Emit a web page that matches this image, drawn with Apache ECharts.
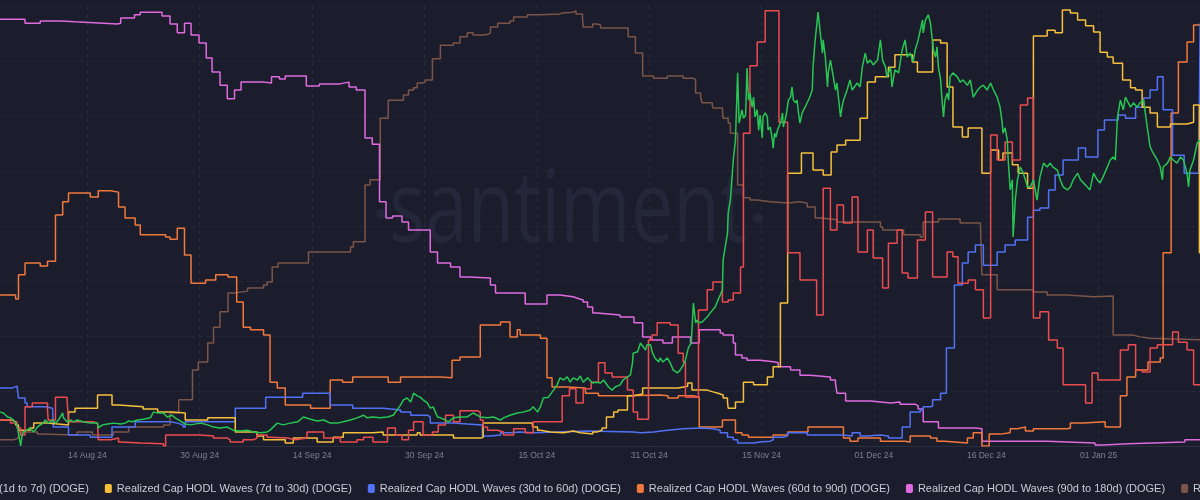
<!DOCTYPE html>
<html>
<head>
<meta charset="utf-8">
<title>DOGE Realized Cap HODL Waves</title>
<script src="https://cdn.jsdelivr.net/npm/echarts@6/dist/echarts.min.js"></script>
<style>
  html, body { margin: 0; padding: 0; background: #1b1d2c; }
  #chart { width: 1200px; height: 500px; }
</style>
</head>
<body>
<div id="chart"></div>
<script>
// x = days since 14 Aug 2024, y = relative level of each wave (0-100, each wave on its own scale)
const dateLabels = ['29 Jul 24', '14 Aug 24', '30 Aug 24', '14 Sep 24', '30 Sep 24', '15 Oct 24',
  '31 Oct 24', '15 Nov 24', '01 Dec 24', '16 Dec 24', '01 Jan 25', '16 Jan 25'];
const labelStep = 15.5;

const wave1d7d = [[-13,7.7],[-12.0,7.7],[-11.6,7.5],[-11.0,6.6],[-10.6,6.4],[-10.2,5.9],[-9.7,4.8],[-9.5,3.0],[-9.2,0],[-9.0,2.5],[-8.8,3.2],[-8.3,3.6],[-7.9,4.1],[-7.4,3.2],[-6.9,4.3],[-6.5,4.8],[-6.1,5.2],[-5.8,5.9],[-5.4,5.2],[-4.8,5.9],[-4.4,5.2],[-4.0,5.9],[-3.4,7.5],[-3.3,6.4],[-2.8,5.5],[-2.3,5.9],[-1.9,5.5],[-1.4,5.9],[-0.6,5.5],[0.4,5.2],[1.4,5.2],[1.5,4.1],[2.1,4.8],[2.8,5.0],[3.6,5.2],[4.6,5.0],[5.2,5.2],[5.7,5.7],[6.2,5.5],[6.9,5.9],[7.7,6.1],[8.7,6.4],[9.1,7.7],[9.8,7.5],[10.5,7.5],[11.0,6.6],[11.7,7.0],[12.1,6.4],[12.8,5.7],[13.5,5.0],[14.2,4.8],[15.6,5.2],[16.6,4.8],[17.4,4.3],[18.3,4.1],[19.3,4.3],[20.1,3.6],[21.1,3.4],[22.1,3.6],[22.9,3.2],[23.9,3.0],[24.8,3.2],[25.2,3.6],[26.2,5.2],[27.0,4.8],[28.0,5.2],[29.0,5.5],[29.8,6.6],[30.8,6.1],[31.7,5.7],[32.6,5.9],[33.5,5.2],[34.5,5.2],[35.3,5.5],[36.3,5.9],[37.2,6.4],[38.1,7.0],[38.6,6.4],[39.4,6.6],[40.4,6.4],[41.4,6.6],[42.2,7.0],[42.9,8.6],[43.2,9.3],[43.6,10.5],[44.1,10.9],[44.6,10.0],[45.0,12.0],[45.5,11.4],[45.9,11.1],[46.3,10.5],[46.9,9.8],[47.3,8.6],[47.7,8.9],[48.3,6.6],[48.7,6.4],[49.4,5.9],[49.8,5.5],[50.5,6.4],[51.4,6.6],[52.4,6.6],[53.2,7.5],[54.2,6.6],[55.2,6.4],[56.0,6.6],[57.0,5.9],[57.4,6.4],[58.3,7.0],[59.3,7.5],[60.1,7.7],[61.1,8.2],[61.5,8.9],[62.1,7.7],[62.5,8.9],[62.9,10.9],[63.6,11.1],[64.3,12.7],[64.8,13.9],[65.2,15.5],[65.7,15.0],[66.2,15.7],[66.6,14.5],[67.0,15.5],[67.6,15.0],[68.0,15.9],[68.4,14.5],[69.0,15.5],[69.7,14.3],[70.1,14.5],[70.8,14.3],[71.2,15.0],[71.9,13.4],[72.4,12.7],[72.8,13.4],[73.5,13.9],[73.9,15.0],[74.5,15.7],[74.9,16.1],[75.2,18.9],[75.3,21.1],[75.9,21.4],[76.3,23.4],[76.7,22.5],[77.0,21.8],[77.2,23.0],[77.7,23.0],[77.9,21.4],[78.3,20.0],[78.8,19.1],[79.0,20.0],[79.4,19.1],[80.0,20.0],[80.4,18.9],[80.8,17.3],[81.4,16.6],[81.8,17.3],[82.2,18.4],[82.5,19.5],[82.9,22.3],[83.3,23.4],[83.6,32.5],[83.9,28.0],[84.1,28.6],[84.3,28.0],[84.8,28.2],[85.5,29.3],[85.9,30.2],[86.6,31.6],[87.0,33.2],[87.3,34.3],[87.6,35.5],[87.7,42.3],[88.3,48.4],[88.4,53.0],[88.7,55.9],[89.1,65.0],[89.4,69.5],[89.7,84.8],[89.9,73.4],[90.3,76.4],[90.5,74.5],[90.8,75.2],[91.0,85.9],[91.2,78.6],[91.4,80.2],[91.7,77.0],[91.9,79.3],[92.1,74.8],[92.4,76.4],[92.6,71.8],[92.8,75.2],[93.1,70.0],[93.2,74.8],[93.5,75.7],[93.8,74.8],[93.9,71.8],[94.2,72.5],[94.5,69.5],[94.6,67.7],[94.8,71.1],[95.0,70.2],[95.2,71.8],[95.6,73.4],[95.9,75.7],[96.0,72.5],[96.4,75.2],[96.7,78.6],[97.0,79.3],[97.2,81.6],[97.4,78.6],[97.7,78.0],[97.9,78.6],[98.1,75.7],[98.3,73.4],[98.6,75.7],[99.0,77.0],[99.6,79.1],[100.0,80.9],[100.1,86.1],[100.4,92.3],[100.8,98.6],[101.1,93.9],[101.4,89.3],[101.5,92.3],[101.8,88.4],[102.1,81.6],[102.2,84.8],[102.5,87.7],[102.9,83.9],[103.2,80.9],[103.4,82.5],[103.6,79.3],[103.9,74.8],[104.1,77.0],[104.3,78.6],[104.8,80.9],[105.2,83.2],[105.5,80.9],[106.2,82.5],[106.6,81.6],[106.9,86.1],[107.3,89.3],[107.6,87.0],[108.0,87.7],[108.4,86.6],[109.0,87.7],[109.4,92.3],[109.7,87.7],[110.1,86.1],[110.3,83.9],[110.8,86.1],[111.0,81.6],[111.4,85.5],[111.9,84.8],[112.4,90.0],[112.8,92.3],[113.1,88.4],[113.5,89.3],[113.9,87.3],[114.2,90.0],[114.6,92.3],[114.9,94.5],[115.2,96.8],[115.3,93.9],[115.6,96.8],[116.0,98.0],[116.3,96.1],[116.6,91.6],[116.7,90.0],[117.0,88.4],[117.2,90.7],[117.4,86.1],[117.7,83.2],[117.9,78.6],[118.1,74.8],[118.3,78.6],[118.6,80.2],[118.8,78.6],[119.0,83.9],[119.4,84.8],[120.0,83.9],[120.4,82.7],[120.8,83.2],[121.4,82.0],[121.8,83.2],[122.2,79.3],[122.8,80.9],[123.2,81.6],[123.6,82.0],[124.1,80.9],[124.6,82.5],[125.0,80.9],[125.5,79.3],[125.9,77.0],[126.2,73.4],[126.3,71.1],[126.6,72.3],[126.9,69.5],[127.0,65.7],[127.3,58.2],[127.6,60.5],[127.7,47.5],[128.0,55.9],[128.3,60.5],[128.7,63.4],[129.1,62.0],[129.7,58.9],[130.1,58.9],[130.5,60.5],[131.0,55.9],[131.4,61.1],[131.9,64.3],[132.4,63.4],[132.8,64.3],[133.2,63.4],[133.8,62.7],[134.2,60.5],[134.6,58.9],[135.2,58.2],[135.6,58.9],[136.0,60.5],[136.6,62.0],[137.0,60.5],[137.4,59.8],[137.9,58.9],[138.3,58.2],[138.8,62.0],[139.3,60.5],[139.7,59.8],[140.1,61.1],[140.7,63.4],[141.1,65.0],[141.5,65.7],[141.8,65.0],[142.1,74.8],[142.5,78.6],[142.9,76.4],[143.2,79.3],[143.4,78.6],[143.9,77.0],[144.3,78.0],[144.8,77.0],[145.2,78.0],[145.7,78.6],[146.2,72.5],[146.6,68.0],[147.0,66.6],[147.6,65.0],[148.0,63.4],[148.3,60.5],[148.4,63.4],[149.0,64.3],[149.4,65.7],[149.8,65.0],[150.3,64.3],[150.8,65.7],[151.2,65.0],[151.7,62.0],[151.9,58.9],[152.1,62.7],[152.6,65.0],[153.1,68.9],[153.5,69.5],[155,70.0]];

const wave7d30d = [[-13,5.9],[-10.3,5.5],[-9.9,4.8],[-9.5,3.6],[-7.9,4.1],[-7.4,5.2],[-5.5,4.8],[-2.6,7.7],[-1.7,8.6],[1.4,11.6],[3.4,9.3],[4.3,8.9],[7.7,8.4],[9.7,7.7],[11.7,7.5],[13.5,5.9],[16.6,6.4],[20.4,3.2],[23.4,2.3],[24.3,1.4],[27.3,0.7],[28.4,1.8],[31.7,0.9],[33.9,2.0],[35.3,3.0],[39.4,3.2],[40.8,2.5],[45.5,3.0],[45.9,2.5],[50.5,1.8],[54.3,2.0],[54.6,5.2],[61.4,4.3],[62.1,3.6],[62.5,3.2],[63.9,3.0],[65.7,3.4],[67.0,3.0],[68.0,2.7],[69.7,3.2],[70.3,3.6],[71.0,4.1],[71.6,6.6],[72.6,7.7],[73.2,8.2],[74.5,11.4],[75.3,11.8],[76.6,13.2],[81.5,13.6],[82.8,14.3],[83.4,12.7],[85.5,12.3],[86.3,12.0],[87.0,11.6],[87.7,10.9],[88.3,10.0],[88.4,8.6],[89.4,10.0],[90.5,14.5],[91.9,13.9],[93.8,15.7],[94.6,18.0],[95.6,32.5],[96.6,62.0],[98.5,66.6],[100.1,62.7],[101.5,61.6],[102.6,66.8],[103.4,68.4],[104.6,69.5],[106.6,74.5],[107.6,82.7],[108.7,83.9],[110.5,86.1],[111.4,88.9],[113.8,87.3],[114.5,85.0],[116.6,92.3],[117.7,91.6],[118.6,81.6],[119.4,72.5],[120.7,70.2],[121.5,72.3],[123.4,62.0],[124.6,67.3],[125.7,65.0],[126.3,66.6],[127.6,63.9],[128.4,62.0],[129.7,58.6],[130.5,93.2],[132.4,94.5],[133.5,93.9],[134.5,99.1],[135.6,98.4],[136.6,96.8],[137.7,95.5],[138.8,94.1],[139.7,89.5],[140.7,88.4],[141.5,87.0],[142.8,83.2],[143.9,81.4],[144.6,80.9],[145.5,77.0],[146.6,75.7],[147.6,72.5],[149.4,73.2],[151.7,73.6],[152.6,77.5],[153.4,43.9],[155,43.9]];

const wave30d60d = [[-13,13.2],[-10.3,13.6],[-9.7,13.9],[-9.5,10.9],[-8.6,9.8],[-8.3,8.9],[-5.8,8.6],[-4.8,8.4],[-4.7,4.3],[-2.6,2.5],[0.4,2.0],[3.4,4.3],[6.6,5.5],[11.4,5.2],[12.4,4.8],[13.2,4.3],[13.5,5.5],[20.4,8.6],[24.6,11.1],[29.7,12.0],[33.5,9.3],[36.6,8.6],[40.8,8.2],[43.2,7.7],[44.6,7.0],[46.9,6.6],[47.3,5.2],[50.5,5.0],[52.4,4.8],[54.5,2.3],[55.6,2.5],[57.0,3.0],[58.3,3.2],[59.7,3.0],[61.5,3.2],[64.8,3.4],[69.0,3.2],[75.3,3.0],[76.3,3.2],[78.1,3.6],[80.0,3.9],[82.2,4.1],[84.6,3.9],[86.3,3.6],[87.3,3.0],[88.3,2.0],[89.1,1.4],[89.7,0.7],[91.9,0.9],[92.8,1.1],[94.2,1.4],[94.6,2.0],[96.0,2.3],[96.6,3.0],[99.3,2.5],[104.3,2.3],[105.5,3.0],[106.6,2.3],[107.6,2.5],[109.4,2.3],[110.5,1.8],[112.4,4.3],[113.5,7.7],[114.9,8.2],[115.3,8.9],[116.3,9.1],[116.6,10.5],[117.7,12.0],[118.5,22.3],[119.6,36.6],[120.7,41.6],[121.5,44.1],[122.5,45.7],[123.6,41.1],[125.5,44.1],[126.6,45.7],[128.0,46.8],[129.7,52.0],[130.5,53.6],[131.4,54.1],[132.6,58.2],[133.5,61.6],[134.6,65.0],[136.7,67.7],[137.7,65.7],[139.4,71.8],[140.3,74.1],[142.2,75.2],[143.2,74.5],[144.6,77.0],[145.7,79.1],[146.6,80.9],[147.6,83.9],[148.4,76.4],[149.7,66.1],[151.3,62.0],[153.3,62.0],[153.5,96.0],[155,96.0]];

const wave60d90d = [[-13,34.3],[-9.9,33.4],[-9.5,38.9],[-8.6,41.6],[-6.5,40.9],[-5.5,42.0],[-4.4,52.5],[-3.4,55.5],[-2.6,57.5],[0.4,56.6],[1.5,58.0],[3.2,57.7],[4.3,54.3],[5.2,51.8],[6.6,50.2],[7.3,48.0],[10.8,47.5],[11.4,47.0],[12.4,49.5],[13.4,43.4],[14.3,37.0],[16.3,37.7],[17.7,38.9],[19.4,38.4],[20.6,32.7],[21.5,27.0],[22.5,26.4],[24.3,25.2],[25.2,14.5],[26.2,13.2],[27.3,9.3],[30.8,8.6],[33.5,15.0],[35.2,14.5],[36.6,15.7],[41.5,14.5],[43.2,15.7],[48.7,15.5],[50.3,19.5],[51.4,20.2],[54.2,27.5],[57.0,28.2],[58.3,24.8],[59.3,26.4],[59.7,25.2],[62.5,24.5],[63.4,15.5],[64.1,13.4],[66.3,13.2],[68.7,12.0],[70.5,11.4],[74.6,11.6],[79.0,11.4],[80.1,10.9],[81.5,11.4],[83.6,11.1],[84.4,4.3],[87.6,5.9],[89.4,3.0],[90.3,2.5],[91.2,2.0],[94.6,2.5],[96.6,3.2],[99.4,4.3],[104.3,1.8],[105.2,1.1],[106.3,1.8],[109.4,1.1],[112.8,0.9],[113.5,2.3],[116.3,1.8],[117.2,1.1],[118.3,0.7],[121.4,1.8],[122.2,3.0],[123.4,0.0],[124.4,2.7],[125.9,3.0],[127.3,3.9],[128.3,4.3],[129.4,3.4],[130.5,3.9],[135.2,4.1],[135.6,5.2],[137.4,5.5],[140.4,4.3],[142.5,11.4],[143.4,15.7],[144.6,17.3],[146.3,19.1],[148.0,20.0],[148.4,43.9],[149.5,75.7],[150.5,87.3],[151.7,91.8],[152.6,95.7],[155,96.1]];

const wave90d180d = [[-13,97.0],[-8.6,96.1],[-6.5,96.6],[-3.7,96.4],[-1.7,96.1],[2.2,95.9],[4.1,96.1],[4.6,97.3],[6.5,98.0],[7.3,98.6],[10.3,97.7],[11.4,95.9],[12.4,93.9],[13.4,96.1],[14.3,93.4],[15.4,91.6],[16.4,88.2],[17.2,85.0],[18.3,82.0],[19.3,78.9],[20.3,80.9],[21.2,82.7],[24.4,82.5],[25.4,83.9],[26.5,83.4],[27.3,84.1],[30.2,81.8],[32.0,82.3],[34.8,82.7],[36.1,81.6],[37.1,80.9],[38.3,70.0],[39.3,68.6],[40.3,55.5],[41.2,51.8],[42.1,52.3],[43.4,50.9],[44.3,49.1],[47.3,44.1],[48.3,41.6],[50.1,40.7],[51.4,38.4],[52.6,38.2],[55.6,36.6],[56.3,34.8],[60.4,32.3],[63.4,34.3],[65.2,33.9],[67.0,33.6],[67.6,33.2],[68.4,32.7],[69.0,31.6],[69.7,30.2],[70.3,29.8],[73.5,29.3],[75.4,28.0],[76.6,24.8],[77.7,24.1],[79.4,23.4],[80.7,24.8],[83.2,23.4],[84.4,26.4],[87.3,25.7],[87.7,25.2],[89.1,23.4],[89.4,20.7],[90.3,20.0],[91.0,19.5],[92.8,19.1],[94.9,18.9],[95.3,18.0],[97.0,17.3],[98.3,16.1],[99.7,15.7],[102.5,15.0],[103.2,14.3],[103.4,12.0],[104.6,10.2],[108.0,10.0],[109.4,9.8],[110.8,10.0],[112.1,9.5],[114.2,9.1],[114.6,8.4],[115.3,5.5],[117.4,4.1],[122.5,3.9],[123.4,1.1],[132.4,0.7],[139.0,0.2],[140.1,0.5],[143.6,0.9],[151.4,1.4],[155,1.4]];

const wave180d365d = [[-13,1.4],[-10.2,1.8],[-9.5,3.2],[-6.9,2.7],[-6.5,2.5],[-1.4,3.2],[0.7,2.5],[3.6,3.2],[5.7,4.3],[10.5,4.8],[11.4,7.5],[12.6,10.5],[14.5,17.3],[15.3,19.1],[16.6,23.4],[17.4,27.0],[18.3,30.5],[19.4,34.8],[20.4,35.2],[22.1,35.9],[24.3,36.6],[24.8,37.3],[25.5,40.7],[26.3,41.6],[30.5,44.1],[36.3,45.2],[36.7,46.4],[38.3,59.3],[39.0,60.5],[40.4,74.5],[41.5,78.6],[43.6,79.8],[44.3,80.9],[45.0,81.4],[45.5,82.5],[46.2,82.7],[46.6,83.2],[47.6,88.0],[48.7,91.1],[50.5,91.6],[51.4,93.0],[52.4,93.9],[53.2,93.4],[54.5,93.6],[55.3,93.9],[55.6,95.2],[56.6,96.1],[58.3,96.6],[58.8,97.5],[60.7,98.0],[62.5,98.2],[65.2,98.4],[65.5,98.6],[67.0,98.9],[67.4,98.2],[68.3,97.3],[68.4,95.2],[69.7,95.9],[70.3,95.7],[70.8,95.0],[74.6,93.0],[75.6,89.3],[76.6,84.1],[78.1,83.6],[80.0,84.1],[82.2,83.6],[83.6,83.2],[83.9,80.2],[84.6,79.3],[84.8,78.0],[86.2,77.5],[86.3,76.8],[87.6,76.4],[87.7,74.5],[88.4,73.4],[88.7,71.1],[89.7,59.3],[90.5,56.4],[91.4,55.9],[92.4,55.5],[94.2,55.2],[96.6,55.5],[98.3,55.2],[99.3,54.3],[100.4,51.8],[101.1,51.4],[103.4,50.9],[106.3,50.9],[109.4,49.8],[109.7,49.1],[112.6,48.0],[114.9,47.5],[115.3,50.9],[117.4,51.6],[120.4,50.7],[123.2,50.2],[123.4,38.9],[125.5,35.5],[130.5,35.0],[132.4,34.3],[135.2,33.9],[138.8,34.1],[141.5,25.2],[144.3,24.8],[145.2,24.5],[146.6,24.1],[155,23.6]];

const wave0d1d = [[-13,5.9],[-10.6,5.2],[-10.2,5.5],[-9.7,4.1],[-9.2,2.5],[-8.6,8.9],[-7.6,9.8],[-5.5,8.2],[-5.4,5.9],[-4.4,11.1],[-2.8,10.5],[-2.6,5.5],[0.8,5.2],[1.4,4.8],[1.5,1.4],[3.2,1.8],[4.3,0.9],[4.6,0.7],[7.3,0.5],[10.5,0.0],[10.8,2.5],[13.8,2.5],[15.6,2.3],[17.4,1.8],[19.3,1.4],[19.7,0.9],[21.5,1.4],[22.9,1.8],[23.4,2.5],[24.8,2.0],[25.2,1.8],[27.6,1.4],[28.7,1.8],[30.3,3.2],[32.6,1.8],[34.5,2.0],[34.9,0.9],[37.2,1.4],[38.1,2.0],[39.4,0.9],[41.4,4.1],[42.5,2.5],[43.4,1.4],[44.3,3.6],[45.0,5.5],[46.3,2.5],[47.6,3.2],[48.4,4.8],[49.4,7.0],[50.5,5.5],[51.4,8.0],[53.8,7.7],[54.2,5.9],[54.6,4.3],[55.2,3.6],[56.6,3.2],[57.4,2.5],[58.8,3.9],[60.4,3.0],[61.5,5.5],[65.5,11.4],[66.5,13.0],[67.4,9.8],[68.4,13.0],[69.5,14.5],[70.5,18.9],[71.4,16.6],[72.4,15.7],[74.5,12.7],[75.3,7.7],[75.9,6.1],[77.4,24.1],[77.9,25.2],[78.6,28.0],[80.4,27.5],[81.5,21.1],[82.2,19.1],[82.5,11.1],[84.3,30.9],[85.5,35.5],[86.3,37.3],[87.6,32.7],[88.4,33.2],[89.1,34.8],[90.1,40.7],[90.5,71.1],[91.4,86.4],[92.4,91.8],[93.5,98.9],[95.4,73.6],[96.6,43.9],[98.3,37.7],[100.6,29.8],[101.5,58.6],[102.5,49.1],[103.4,54.8],[104.3,50.7],[105.5,56.6],[106.3,44.1],[107.6,49.1],[108.4,42.7],[109.7,35.9],[110.5,46.1],[111.7,49.1],[112.4,39.3],[113.2,38.2],[114.5,46.8],[115.6,53.2],[116.6,38.4],[118.6,44.1],[119.4,43.0],[120.1,37.0],[121.5,37.7],[122.5,35.5],[123.6,29.1],[124.6,70.7],[125.5,65.0],[126.6,69.1],[127.6,65.0],[128.7,77.5],[129.7,79.1],[130.5,29.1],[131.4,30.5],[132.6,24.1],[133.8,22.3],[134.6,13.9],[137.7,9.8],[138.6,16.6],[139.4,15.0],[142.5,21.8],[143.6,23.0],[144.6,17.3],[145.5,16.8],[146.6,22.3],[147.6,23.0],[149.7,25.9],[150.5,23.6],[151.7,21.8],[152.6,13.9],[155,13.9]];

const waves = [
  { name: 'Realized Cap HODL Waves (180d to 365d) (DOGE)', color: '#7b5548', data: wave180d365d, step: 'end' },
  { name: 'Realized Cap HODL Waves (90d to 180d) (DOGE)', color: '#e06ae0', data: wave90d180d, step: 'end' },
  { name: 'Realized Cap HODL Waves (60d to 90d) (DOGE)', color: '#f2793c', data: wave60d90d, step: 'end' },
  { name: 'Realized Cap HODL Waves (30d to 60d) (DOGE)', color: '#5272f5', data: wave30d60d, step: 'end' },
  { name: 'Realized Cap HODL Waves (7d to 30d) (DOGE)', color: '#f6c03d', data: wave7d30d, step: 'end' },
  { name: 'Realized Cap HODL Waves (0d to 1d) (DOGE)', color: '#ec4c4f', data: wave0d1d, step: 'end' },
  { name: 'Realized Cap HODL Waves (1d to 7d) (DOGE)', color: '#27c653', data: wave1d7d, step: false }
];
const legendOrder = [6, 4, 3, 2, 1, 0, 5];

const gridColor = '#272a3b';
const labelFont = '"Liberation Sans", Arial, sans-serif';

const chart = echarts.init(document.getElementById('chart'), null, { renderer: 'canvas' });
chart.setOption({
  backgroundColor: '#1b1d2c',
  animation: false,
  graphic: [
    {
      type: 'text', x: 568, y: 214, scaleX: 0.76, z: -10, silent: true,
      style: { text: 'santiment', fontSize: 100, fontFamily: '"Open Sans", sans-serif',
        fill: '#24273a', align: 'center', verticalAlign: 'middle' }
    },
    { type: 'circle', shape: { cx: 381, cy: 214, r: 5 }, style: { fill: '#24273a' }, z: -10, silent: true },
    { type: 'circle', shape: { cx: 758, cy: 218, r: 5 }, style: { fill: '#24273a' }, z: -10, silent: true }
  ],
  grid: { left: -25, right: -11, top: 6, bottom: 54, containLabel: false, outerBoundsMode: 'none' },
  legend: {
    data: legendOrder.map(i => waves[i].name),
    left: -157,
    top: 478,
    width: 2000,
    icon: 'roundRect',
    itemWidth: 7,
    itemHeight: 9,
    itemGap: 16,
    textStyle: { color: '#c9cbd5', fontSize: 11, fontFamily: labelFont }
  },
  xAxis: {
    type: 'value',
    min: -15.5,
    max: 155,
    interval: labelStep,
    axisLine: { show: true, lineStyle: { color: '#2c2f41' } },
    axisTick: { show: false },
    axisLabel: {
      color: '#7d8195', fontSize: 8.5, fontFamily: labelFont, margin: 5,
      showMinLabel: false, showMaxLabel: false,
      formatter: v => dateLabels[Math.round(v / labelStep) + 1]
    },
    splitLine: { show: true, lineStyle: { color: gridColor, type: [4, 4] } }
  },
  yAxis: {
    type: 'value',
    min: 0,
    max: 100,
    interval: 12.5,
    axisLine: { show: false },
    axisTick: { show: false },
    axisLabel: { show: false },
    splitLine: { show: true, lineStyle: { color: gridColor, type: [4, 4] } }
  },
  series: waves.map(w => ({
    name: w.name,
    type: 'line',
    step: w.step,
    data: w.data,
    showSymbol: false,
    symbol: 'none',
    color: w.color,
    lineStyle: { color: w.color, width: 1.5 },
    emphasis: { disabled: true }
  }))
});
</script>
</body>
</html>
